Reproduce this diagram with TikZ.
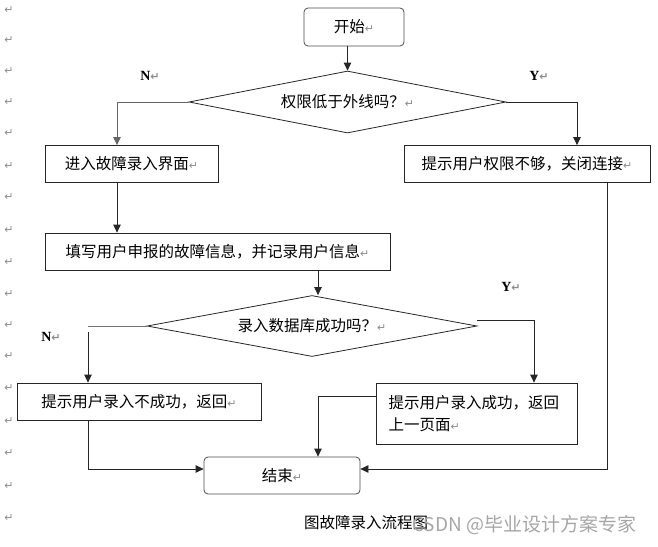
\documentclass[tikz,border=0pt]{standalone}
\usepackage{fontspec}
\newfontfamily\cjk{Noto Sans CJK SC}
\newfontfamily\symfont{DejaVu Sans}
\newfontfamily\latin{Liberation Serif}
\usetikzlibrary{shapes.geometric,arrows.meta}
\newcommand{\pmark}{{\symfont\fontsize{11}{11}\selectfont\color{black!45}↵}}

\begin{document}
\begin{tikzpicture}[x=1pt,y=-1pt,
    box/.style={draw=black!85,line width=0.8pt,minimum height=37pt,inner sep=0pt,font=\cjk\fontsize{15.5}{22}\selectfont},
    endbox/.style={box,rounded corners=4pt,draw=black!70},
    decision/.style={diamond,aspect=5,draw=black!85,line width=0.8pt,inner sep=0pt,font=\cjk\fontsize{15.5}{22}\selectfont},
    arr/.style={draw=black!85,line width=0.8pt,-{Triangle[length=8pt,width=7.5pt]}},
    line/.style={draw=black!85,line width=0.8pt},
    yn/.style={font=\latin\bfseries\fontsize{14}{16}\selectfont,inner sep=0pt}]
    \useasboundingbox (0,0) rectangle (658,546);
    %PARAGRAPH MARKS ON THE LEFT
    \foreach \py in {10,40,71,102,133,166,197,230,262,294,325,356,388,421,453,486,518}
      \node[inner sep=0pt] (pm\py) at (9,\py) {\pmark};
    % START
    \node[endbox,minimum width=100pt,minimum height=38pt] (start) at (354,27) {开始\pmark};
    % FIRST CHECK
    \node[decision,minimum width=317pt,minimum height=62pt] (check) at (347.5,102) {权限低于外线吗？\pmark};
    \node[box,minimum width=173pt] (enter) at (131.5,164) {进入故障录入界面\pmark};
    \node[box,minimum width=246pt] (deny) at (527,164) {提示用户权限不够，关闭连接\pmark};
    \node[box,minimum width=345pt] (fill) at (217.5,251.5) {填写用户申报的故障信息，并记录用户信息\pmark};
    % SECOND CHECK
    \node[decision,minimum width=330pt,minimum height=61pt] (save) at (312,326) {录入数据库成功吗？\pmark};
    \node[box,minimum width=244pt] (fail) at (139,401.5) {提示用户录入不成功，返回\pmark};
    \node[box,minimum width=201pt,minimum height=61pt,align=left,text width=176pt] (ok) at (476.5,413.5) {提示用户录入成功，返回\\上一页面\pmark};
    % END
    \node[endbox,minimum width=156pt] (stop) at (282,475.5) {结束\pmark};
    % LABELS
    \node[yn] (n1) at (150,76) {N\pmark};
    \node[yn] (y1) at (539,76) {Y\pmark};
    \node[yn] (y2) at (511,287) {Y\pmark};
    \node[yn] (n2) at (51,337) {N\pmark};
    % CAPTION
    \node[inner sep=0pt,font=\cjk\fontsize{15.5}{18}\selectfont] (cap) at (366,523) {图故障录入流程图};
    \node[inner sep=0pt,anchor=west,text=black!35,font=\cjk\fontsize{19}{22}\selectfont] (wm) at (412,525) {CSDN @毕业设计方案专家};
    % CONNECTORS
    \coordinate (nbend) at (88,326);
    \draw[arr] (check.north |- start.south) -- (check.north);
    \draw[arr,draw=black!60] (check.west) -| ([xshift=-14.5pt]enter.north);
    \draw[arr] (check.east) -| ([xshift=50pt]deny.north);
    \draw[arr] ([xshift=-14.5pt]enter.south) -- ([xshift=-14.5pt]enter.south |- fill.north);
    \draw[arr] ([xshift=6pt]save.north |- fill.south) -- ([xshift=6pt]save.north);
    \draw[line,draw=black!55] (save.west) -- (nbend);
    \draw[arr] ([yshift=-6pt]nbend) -- (fail.north -| nbend);
    \draw[arr] ([yshift=6pt]save.east) -| ([xshift=57.5pt]ok.north);
    \draw[arr] ([yshift=17.5pt]ok.west) -| ([xshift=36pt]stop.north);
    \draw[arr] ([xshift=-51pt]fail.south) |- ([yshift=6.5pt]stop.west);
    \draw[arr] ([xshift=80pt]deny.south) |- ([yshift=6.5pt]stop.east);
  \end{tikzpicture}
\end{document}
